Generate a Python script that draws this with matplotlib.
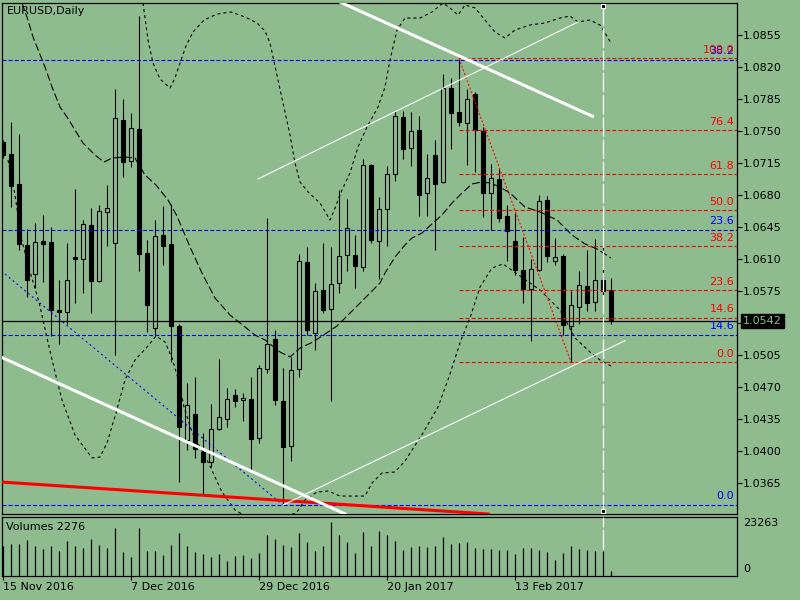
import numpy as np
import pandas as pd
import matplotlib
matplotlib.use('Agg')
import matplotlib.pyplot as plt
import matplotlib.transforms as mtransforms
from matplotlib.ticker import FuncFormatter

BG = '#8FBC8F'
plt.rcParams['font.family'] = ['DejaVu Sans']
plt.rcParams['font.size'] = 8
plt.rcParams['lines.scale_dashes'] = False

# daily EURUSD bars, 15 Nov 2016 .. 1 Mar 2017
dates = pd.bdate_range('2016-11-15', periods=77)
opens = [1.0738, 1.0724, 1.0692, 1.0625, 1.0593, 1.0629, 1.0628, 1.0554, 1.0552, 1.0612,
         1.0610, 1.0647, 1.0586, 1.0661, 1.0627, 1.0762, 1.0717, 1.0752, 1.0616, 1.0534,
         1.0636, 1.0626, 1.0536, 1.0412, 1.0440, 1.0399, 1.0388, 1.0424, 1.0435, 1.0461,
         1.0455, 1.0457, 1.0414, 1.0489, 1.0522, 1.0454, 1.0405, 1.0489, 1.0606, 1.0529,
         1.0576, 1.0555, 1.0583, 1.0614, 1.0614, 1.0601, 1.0712, 1.0629, 1.0664, 1.0703,
         1.0765, 1.0731, 1.0751, 1.0682, 1.0723, 1.0694, 1.0797, 1.0770, 1.0758, 1.0790,
         1.0750, 1.0682, 1.0697, 1.0657, 1.0629, 1.0598, 1.0577, 1.0598, 1.0674, 1.0608,
         1.0613, 1.0536, 1.0557, 1.0580, 1.0563, 1.0587, 1.0576]
highs = [1.0740, 1.0760, 1.0746, 1.0643, 1.0649, 1.0658, 1.0645, 1.0587, 1.0627, 1.0686,
         1.0652, 1.0665, 1.0669, 1.0691, 1.0796, 1.0785, 1.0769, 1.0875, 1.0630, 1.0652,
         1.0668, 1.0670, 1.0539, 1.0474, 1.0481, 1.0419, 1.0451, 1.0500, 1.0469, 1.0467,
         1.0463, 1.0481, 1.0494, 1.0655, 1.0532, 1.0490, 1.0503, 1.0615, 1.0623, 1.0583,
         1.0627, 1.0623, 1.0685, 1.0675, 1.0636, 1.0719, 1.0714, 1.0677, 1.0711, 1.0771,
         1.0771, 1.0770, 1.0766, 1.0725, 1.0740, 1.0812, 1.0808, 1.0829, 1.0796, 1.0792,
         1.0754, 1.0714, 1.0708, 1.0669, 1.0660, 1.0634, 1.0610, 1.0680, 1.0679, 1.0633,
         1.0615, 1.0575, 1.0596, 1.0619, 1.0631, 1.0630, 1.0589]
lows = [1.0720, 1.0666, 1.0620, 1.0568, 1.0578, 1.0584, 1.0525, 1.0517, 1.0539, 1.0562,
        1.0573, 1.0551, 1.0584, 1.0624, 1.0505, 1.0699, 1.0710, 1.0597, 1.0530, 1.0527,
        1.0603, 1.0497, 1.0366, 1.0401, 1.0392, 1.0352, 1.0382, 1.0423, 1.0426, 1.0448,
        1.0433, 1.0377, 1.0408, 1.0485, 1.0450, 1.0342, 1.0389, 1.0481, 1.0527, 1.0510,
        1.0551, 1.0454, 1.0572, 1.0596, 1.0578, 1.0597, 1.0627, 1.0588, 1.0624, 1.0695,
        1.0719, 1.0711, 1.0657, 1.0657, 1.0620, 1.0693, 1.0730, 1.0755, 1.0712, 1.0705,
        1.0656, 1.0641, 1.0650, 1.0608, 1.0592, 1.0561, 1.0520, 1.0597, 1.0606, 1.0603,
        1.0527, 1.0497, 1.0539, 1.0553, 1.0553, 1.0570, 1.0539]
closes = [1.0723, 1.0690, 1.0626, 1.0587, 1.0628, 1.0626, 1.0554, 1.0552, 1.0587, 1.0610,
          1.0648, 1.0586, 1.0662, 1.0665, 1.0764, 1.0716, 1.0753, 1.0615, 1.0559, 1.0635,
          1.0624, 1.0536, 1.0426, 1.0450, 1.0402, 1.0388, 1.0424, 1.0437, 1.0456, 1.0454,
          1.0458, 1.0413, 1.0490, 1.0517, 1.0455, 1.0404, 1.0488, 1.0607, 1.0532, 1.0575,
          1.0554, 1.0582, 1.0613, 1.0644, 1.0602, 1.0713, 1.0630, 1.0664, 1.0703, 1.0766,
          1.0730, 1.0750, 1.0680, 1.0698, 1.0692, 1.0797, 1.0769, 1.0759, 1.0785, 1.0751,
          1.0682, 1.0698, 1.0655, 1.0640, 1.0598, 1.0577, 1.0599, 1.0673, 1.0613, 1.0612,
          1.0537, 1.0559, 1.0581, 1.0562, 1.0587, 1.0575, 1.0542]
volumes = [13000, 13915, 13915, 15509, 13053, 11632, 13053, 10770, 15078, 13053,
           12062, 15940, 13484, 12062, 20678, 10468, 8185, 20678, 10770, 10770,
           9047, 13484, 18524, 13053, 10468, 9607, 8185, 9607, 6462, 8616,
           9047, 7754, 10038, 17792, 15940, 13484, 12493, 18524, 14647, 10770,
           13053, 23263, 17792, 14647, 10038, 18955, 13053, 19386, 17792, 15293,
           11201, 12493, 12924, 12493, 12924, 16801, 13786, 14216, 14647, 12062,
           11632, 11632, 11201, 11201, 9478, 12062, 12062, 11201, 10339, 6893,
           9908, 12924, 11632, 11201, 10770, 10770, 2276]

# Bollinger bands (20): bar index, price
bb_upper_x = [17.5, 18.125, 18.75, 19.625, 20.875, 21.5, 22.125, 22.875, 23.75, 25.125,
              26.75, 28.5, 30.25, 31.75, 32.75, 33.375, 35.0, 35.875, 36.5, 37.125,
              38.25, 39.625, 40.875, 41.5, 42.375, 43.375, 44.375, 45.5, 46.875, 47.75,
              48.375, 49.25, 50.25, 52.125, 53.625, 55.0, 55.875, 56.875, 57.75, 59.0,
              60.25, 61.5, 62.75, 64.0, 65.875, 67.75, 69.625, 70.875, 71.875, 73.375,
              74.625, 75.25, 76.0]
bb_upper_y = [1.08896, 1.08492, 1.08240, 1.08065, 1.07967, 1.08076, 1.08240, 1.08426, 1.08579, 1.08710,
              1.08776, 1.08798, 1.08743, 1.08678, 1.08590, 1.08459, 1.07803, 1.07453, 1.07147, 1.06939,
              1.06818, 1.06709, 1.06523, 1.06654, 1.06851, 1.07037, 1.07322, 1.07540, 1.07759, 1.07978,
              1.08273, 1.08601, 1.08732, 1.08732, 1.08798, 1.08896, 1.08842, 1.08765, 1.08875, 1.08842,
              1.08710, 1.08579, 1.08514, 1.08601, 1.08656, 1.08678, 1.08732, 1.08754, 1.08689, 1.08710,
              1.08656, 1.08568, 1.08459]
bb_mid_x = [2.375, 3.0, 3.75, 5.25, 6.125, 7.125, 8.0, 9.0, 10.0, 11.5,
            12.625, 13.625, 15.25, 16.5, 17.75, 19.125, 20.625, 21.75, 23.375, 24.875,
            26.5, 28.375, 30.25, 31.5, 32.75, 34.625, 35.875, 37.125, 38.75, 40.25,
            41.75, 42.75, 44.375, 45.875, 47.125, 47.75, 49.0, 50.25, 51.125, 52.375,
            53.75, 54.875, 56.125, 57.375, 58.625, 59.875, 60.875, 62.125, 63.375, 65.25,
            67.125, 69.25, 71.125, 72.75, 74.25, 76.0]
bb_mid_y = [1.08896, 1.08743, 1.08525, 1.08196, 1.07978, 1.07759, 1.07650, 1.07507, 1.07365, 1.07234,
            1.07157, 1.07201, 1.07212, 1.07201, 1.07015, 1.06906, 1.06742, 1.06567, 1.06228, 1.05943,
            1.05670, 1.05484, 1.05353, 1.05265, 1.05211, 1.05079, 1.05025, 1.05123, 1.05189, 1.05276,
            1.05364, 1.05451, 1.05593, 1.05725, 1.05834, 1.05943, 1.06118, 1.06250, 1.06326, 1.06381,
            1.06490, 1.06578, 1.06709, 1.06818, 1.06917, 1.06939, 1.06928, 1.06884, 1.06818, 1.06665,
            1.06611, 1.06523, 1.06359, 1.06261, 1.06206, 1.06108]
bb_lower_x = [0.625, 1.5, 2.25, 3.25, 4.5, 5.5, 6.375, 7.375, 9.0, 11.125,
              12.125, 13.0, 14.125, 15.25, 16.5, 18.0, 19.125, 20.25, 21.125, 22.0,
              22.625, 23.625, 25.625, 27.375, 29.0, 32.875, 36.75, 37.75, 39.25, 40.625,
              42.125, 45.25, 46.125, 47.375, 49.0, 50.25, 52.5, 54.375, 55.75, 57.25,
              58.375, 59.625, 61.125, 62.5, 64.625, 67.125, 69.0, 69.625, 71.5, 73.375,
              74.625, 76.0]
bb_lower_y = [1.07179, 1.06797, 1.06337, 1.05998, 1.05626, 1.05233, 1.04904, 1.04554, 1.04172, 1.03920,
              1.03931, 1.04084, 1.04412, 1.04773, 1.04992, 1.05134, 1.05254, 1.05189, 1.05014, 1.04751,
              1.04478, 1.04204, 1.03876, 1.03548, 1.03351, 1.03155, 1.03330, 1.03461, 1.03548, 1.03559,
              1.03504, 1.03504, 1.03647, 1.03756, 1.03767, 1.03887, 1.04194, 1.04478, 1.04806, 1.05211,
              1.05451, 1.05790, 1.05998, 1.06042, 1.05911, 1.05758, 1.05593, 1.05539, 1.05233, 1.05079,
              1.04992, 1.04926]

# drawn objects: fibo anchors and trend lines (bar index, price)
red_fib_hi, red_fib_lo = 1.0829, 1.0497
red_fib_x = [57, 71]
blue_fib_lo, blue_fib_hi = 1.0341, 1.1615
fib_levels = [0.0, 14.6, 23.6, 38.2, 50.0, 61.8, 76.4, 100.0]
blue_diag_x, blue_diag_y = [0.25, 35.0], [1.05932, 1.03406]
red_trend_x, red_trend_y = [0.0, 59.375], [1.03656, 1.03315]
white_low_x, white_low_y = [0.0, 42.5], [1.05014, 1.03318]
white_up_x, white_up_y = [42.0, 73.875], [1.08912, 1.07650]
thin_up_x, thin_up_y = [31.875, 71.875], [1.06972, 1.08689]
thin_low_x, thin_low_y = [35.0, 77.75], [1.03406, 1.05203]
vline_bar = 75
last_price = closes[-1]

fig = plt.figure(figsize=(8, 6), dpi=100, facecolor=BG)
W, H = 800, 600


def frame(x0, y0, x1, y1):
    return [x0 / W, 1 - y1 / H, (x1 - x0) / W, (y1 - y0) / H]


ax = fig.add_axes(frame(2, 3, 737, 514), facecolor=BG)
axv = fig.add_axes(frame(2, 517, 737, 576), facecolor=BG)
XMIN, XMAX = -0.125, 91.75
for a in (ax, axv):
    a.set_xlim(XMIN, XMAX)
    for s in a.spines.values():
        s.set_color('black')
        s.set_linewidth(0.9)
ax.set_ylim(1.033076, 1.088964)

# candles
idx = np.arange(len(opens))
o, h, l, c = map(np.array, (opens, highs, lows, closes))
ax.vlines(idx, l, h, color='black', lw=0.8, zorder=2)
bull = c > o
lo_body = np.minimum(o, c)
body = np.maximum(np.abs(c - o), 0.00004)
ax.bar(idx[bull], body[bull], bottom=lo_body[bull], width=0.5, color=BG,
       edgecolor='black', lw=0.8, zorder=3)
ax.bar(idx[~bull], body[~bull], bottom=lo_body[~bull], width=0.5, color='black',
       edgecolor='black', lw=0.8, zorder=3)

# bollinger bands
ax.plot(bb_upper_x, bb_upper_y, color='black', lw=0.8, dashes=(2.2, 2.2), zorder=4)
ax.plot(bb_lower_x, bb_lower_y, color='black', lw=0.8, dashes=(2.2, 2.2), zorder=4)
ax.plot(bb_mid_x, bb_mid_y, color='black', lw=0.8, dashes=(5.5, 2.2), zorder=4)

trans = mtransforms.blended_transform_factory(ax.transAxes, ax.transData)
ymin, ymax = ax.get_ylim()

# blue fibo
for lv in fib_levels:
    p = blue_fib_lo + (blue_fib_hi - blue_fib_lo) * lv / 100
    if ymin < p < ymax:
        ax.hlines(p, XMIN, XMAX, colors='#0000FF', lw=0.8, linestyles=(0, (2.9, 1.5)), zorder=5)
        ax.annotate(f'{lv:.1f}', xy=(1, p), xycoords=trans, xytext=(-2, 6),
                    textcoords='offset points', ha='right', va='center', color='#0000FF', zorder=6)
ax.plot(blue_diag_x, blue_diag_y, color='#0000FF', lw=0.8, dashes=(1.4, 2.2), zorder=5)

# red fibo
for lv in fib_levels:
    p = red_fib_lo + (red_fib_hi - red_fib_lo) * lv / 100
    ax.hlines(p, red_fib_x[0], XMAX, colors='red', lw=0.8, linestyles=(0, (2.9, 1.5)), zorder=5)
    ax.annotate(f'{lv:.1f}', xy=(1, p), xycoords=trans, xytext=(-2, 6),
                textcoords='offset points', ha='right', va='center', color='red', zorder=6)
ax.plot(red_fib_x, [red_fib_hi, red_fib_lo], color='red', lw=0.8, dashes=(1.4, 1.4), zorder=5)

# trend lines
ax.axline((red_trend_x[0], red_trend_y[0]), (red_trend_x[1], red_trend_y[1]),
          color='red', lw=2.2, zorder=5)
ax.axline((white_low_x[0], white_low_y[0]), (white_low_x[1], white_low_y[1]),
          color='white', lw=2.2, zorder=5)
ax.plot(white_up_x, white_up_y, color='white', lw=2.2, zorder=5, solid_capstyle='butt')
ax.plot(thin_up_x, thin_up_y, color='white', lw=0.8, zorder=5)
ax.plot(thin_low_x, thin_low_y, color='white', lw=0.8, zorder=5)

# current price line and vertical marker line
ax.axhline(last_price, color='black', lw=0.9, zorder=5)
ax.axvline(vline_bar, color='white', lw=0.9, dashes=(14, 2), zorder=6)
axv.axvline(vline_bar, ymin=0.46, ymax=1, color='white', lw=0.9, dashes=(14, 2), zorder=3)
mtrans = mtransforms.blended_transform_factory(ax.transData, ax.transAxes)
ax.plot([vline_bar, vline_bar], [0.995, 0.006], transform=mtrans, ls='none', marker='s',
        ms=3.5, mfc='black', mec='white', mew=0.8, zorder=7, clip_on=False)

# price axis (the tick hidden behind the price box gets no label)
ax.yaxis.tick_right()
ax.set_yticks(np.round(np.arange(1.0365, 1.0856, 0.0035), 4))
ax.yaxis.set_major_formatter(
    FuncFormatter(lambda v, pos: '' if abs(v - last_price) < 0.0005 else f'{v:.4f}'))
ax.tick_params(axis='y', direction='out', length=3.6, width=0.8, pad=0.7, labelsize=8)
ax.tick_params(axis='x', bottom=False, labelbottom=False)
ax.annotate(f'{last_price:.4f}', xy=(1, last_price), xycoords=trans, xytext=(4.3, 0),
            textcoords='offset points', ha='left', va='center', color=BG,
            bbox=dict(boxstyle='square,pad=0.2', fc='black', ec='black'), annotation_clip=False)

# volumes
axv.vlines(idx, 0, volumes, color='black', lw=0.9)
axv.set_ylim(0, max(volumes) * 59 / 54)
axv.set_yticks([])
tick_pos = [0, 16, 32, 48, 64]
axv.set_xticks(tick_pos)
axv.set_xticklabels([f'{dates[i].day} {dates[i]:%b %Y}' for i in tick_pos], ha='left')
axv.tick_params(axis='x', direction='out', length=2.9, width=0.8, pad=1.5, labelsize=8)

fig.text(7 / W, 1 - 11.5 / H, 'EURUSD,Daily', ha='left', va='center')
fig.text(6 / W, 1 - 527 / H, f'Volumes {volumes[-1]}', ha='left', va='center')
fig.text(743 / W, 1 - 523 / H, f'{max(volumes)}', ha='left', va='center')
fig.text(743 / W, 1 - 569 / H, '0', ha='left', va='center')

fig.savefig('out.png', dpi=100, facecolor=BG)
